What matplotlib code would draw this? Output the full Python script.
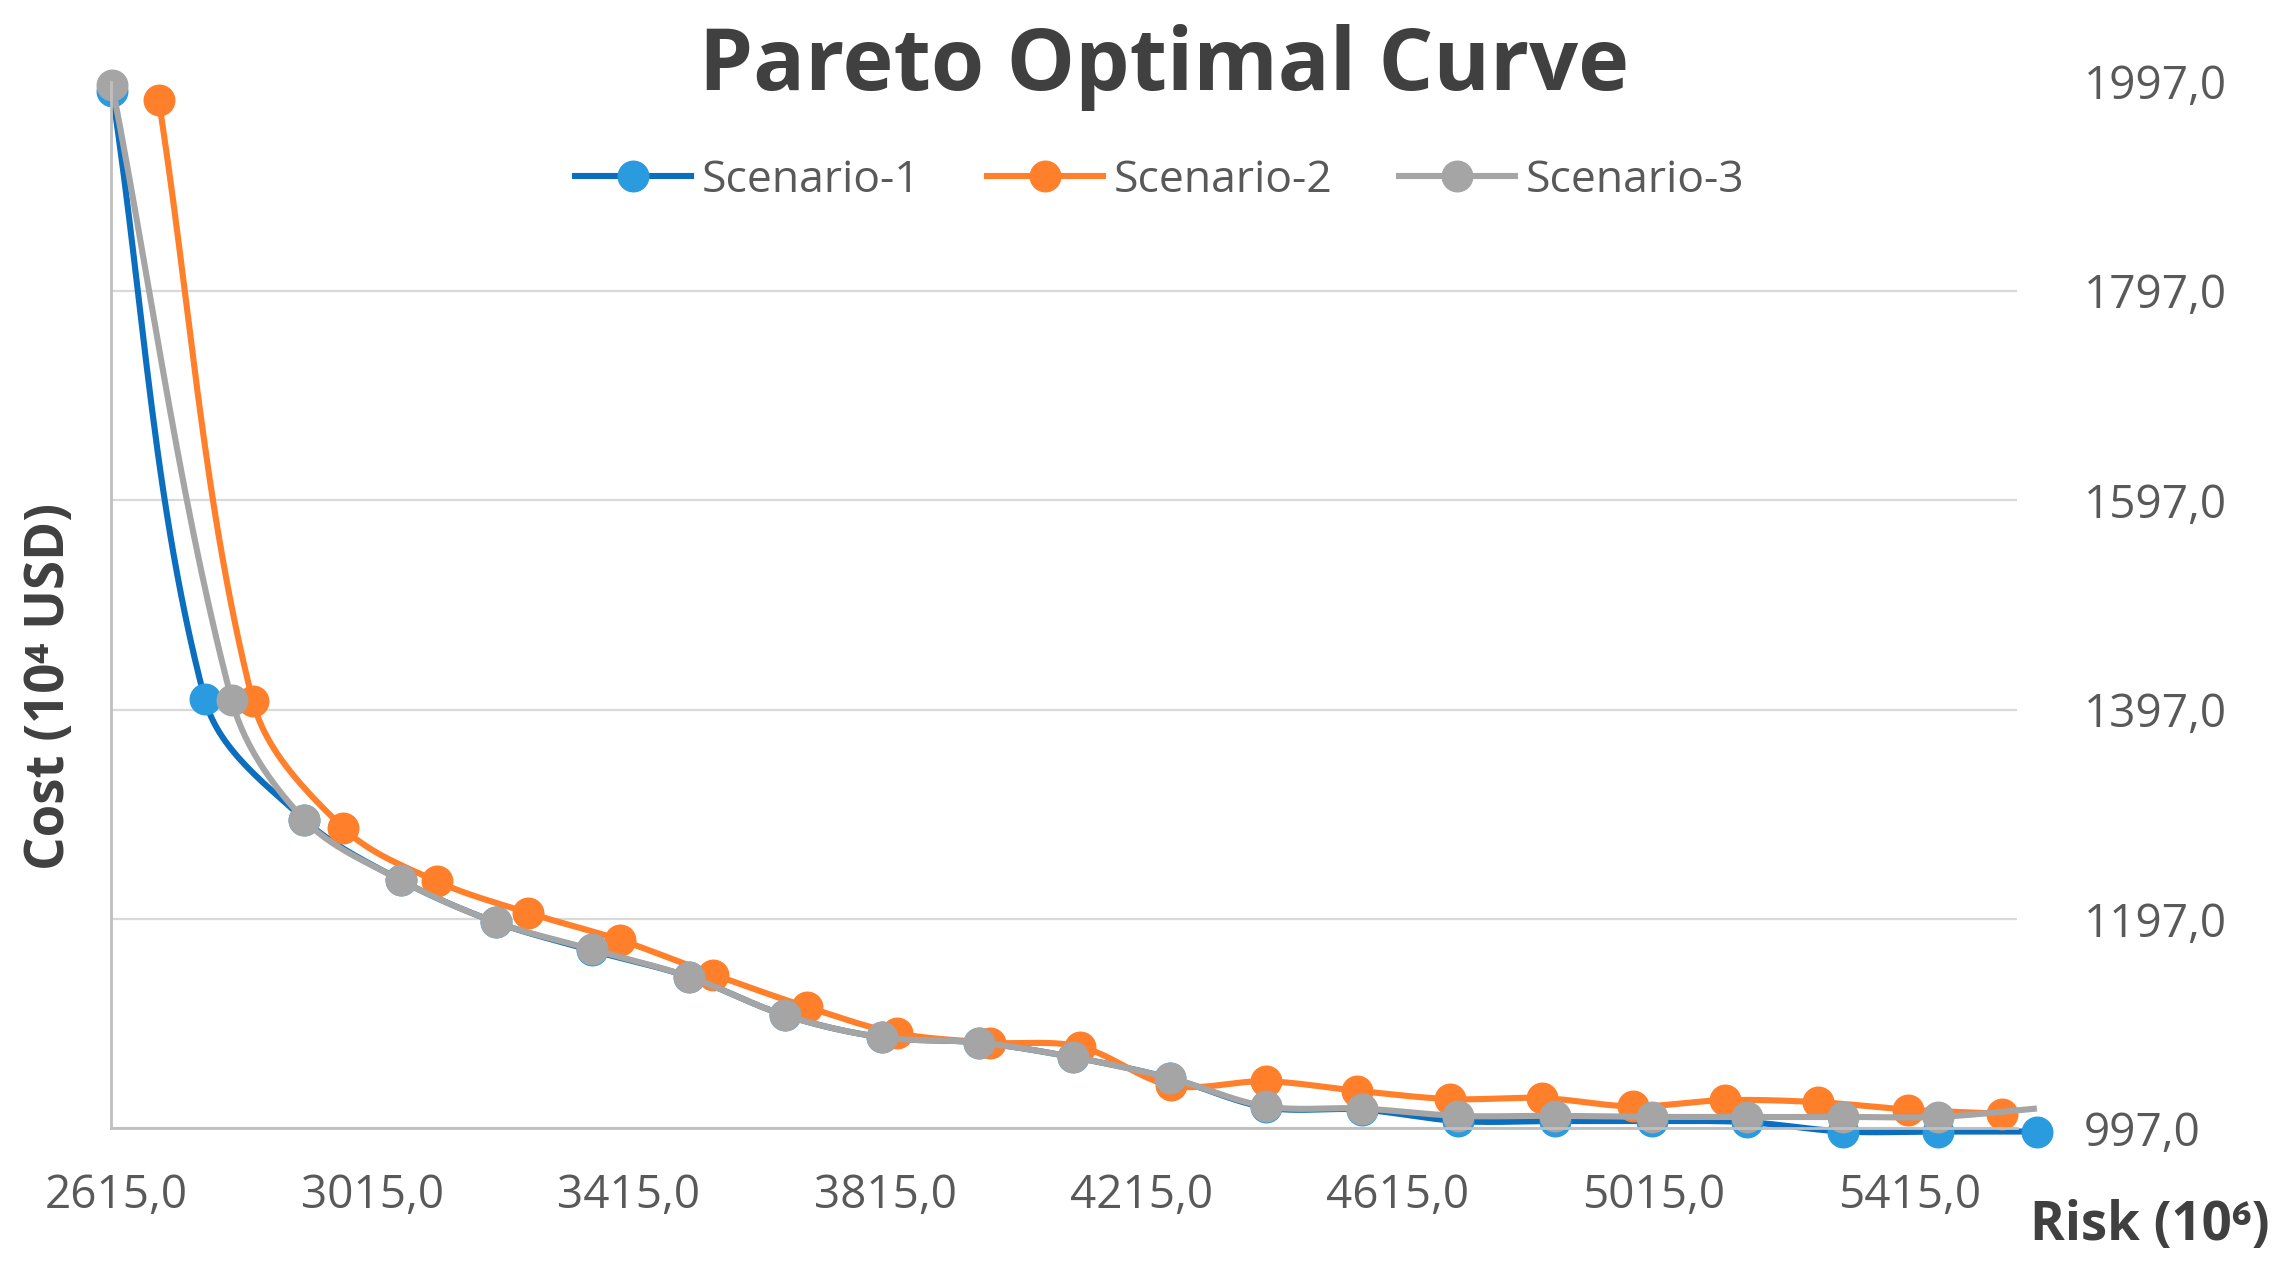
import numpy as np
import matplotlib
matplotlib.use("Agg")
import matplotlib.pyplot as plt
from matplotlib.ticker import FuncFormatter

plt.rcParams['font.family'] = ['Open Sans', 'DejaVu Sans']

# values
risk_s1 = [2608, 2753, 2908, 3059, 3207, 3357, 3508, 3659, 3810, 3961, 4109,
           4260, 4410, 4559, 4710, 4860, 5012, 5160, 5311, 5459, 5613]
cost_s1 = [1988, 1407, 1292, 1234, 1194, 1167, 1142, 1105, 1084, 1079, 1065,
           1045, 1017, 1015, 1004, 1004, 1004, 1003, 994, 994, 994]

risk_s2 = [2681, 2828, 2969, 3115, 3257, 3401, 3547, 3693, 3833, 3979, 4119,
           4262, 4410, 4551, 4697, 4840, 4983, 5126, 5272, 5412, 5558]
cost_s2 = [1979, 1405, 1284, 1233, 1203, 1177, 1144, 1113, 1088, 1079, 1075,
           1038, 1042, 1033, 1025, 1026, 1018, 1024, 1022, 1015, 1011]

risk_s3 = [2608, 2795, 2908, 3059, 3207, 3357, 3508, 3659, 3810, 3961, 4109,
           4260, 4410, 4559, 4710, 4860, 5012, 5160, 5311, 5459, 5613]
cost_s3 = [1994, 1406, 1292, 1234, 1194, 1168, 1142, 1105, 1084, 1079, 1065,
           1045, 1018, 1016, 1009, 1009, 1008, 1008, 1008, 1008, 1016]

x_ticks = [2615, 3015, 3415, 3815, 4215, 4615, 5015, 5415]
y_ticks = [997, 1197, 1397, 1597, 1797, 1997]


def smooth_line(ax, xs, ys, n=30):
    """Smoothed line like Excel's, bezier built in screen space."""
    pts = ax.transData.transform(np.column_stack([xs, ys]))
    m = len(pts)
    tang = np.zeros_like(pts)
    for i in range(m):
        d = pts[min(i + 1, m - 1)] - pts[max(i - 1, 0)]
        tang[i] = d / np.hypot(*d)
    out = []
    t = np.linspace(0, 1, n)[:, None]
    for i in range(m - 1):
        p1, p2 = pts[i], pts[i + 1]
        L = np.hypot(*(p2 - p1)) / 3
        c1 = p1 + tang[i] * L
        c2 = p2 - tang[i + 1] * L
        seg = ((1 - t) ** 3) * p1 + 3 * ((1 - t) ** 2) * t * c1 \
            + 3 * (1 - t) * t ** 2 * c2 + t ** 3 * p2
        out.append(seg if i == 0 else seg[1:])
    curve = ax.transData.inverted().transform(np.vstack(out))
    return curve[:, 0], curve[:, 1]


fig = plt.figure(figsize=(22.83, 12.72), dpi=100)
ax = fig.add_axes([0.0485, 0.1129, 0.835, 0.823])
ax.set_xlim(2606, 5582)
ax.set_ylim(997, 1997)

series = [
    ("Scenario-1", risk_s1, cost_s1, "#0B6EBF", "#2A9BDF", None),
    ("Scenario-2", risk_s2, cost_s2, "#FF7F2A", "#FF7F2A", None),
    ("Scenario-3", risk_s3, cost_s3, "#A5A5A5", "#A5A5A5", len(risk_s3) - 1),
]

handles = []
for name, xs, ys, lc, mc, last in series:
    sx, sy = smooth_line(ax, xs, ys)
    ax.plot(sx, sy, color=lc, lw=4.4, clip_on=False, solid_capstyle="butt")
    mx = xs[:last] if last else xs
    my = ys[:last] if last else ys
    ax.plot(mx, my, ls="none", marker="o", ms=22, color=mc, mec=mc, clip_on=False)
    h, = ax.plot([], [], color=lc, lw=4.4, marker="o", ms=22, mfc=mc, mec=mc)
    handles.append((h, name))

ax.set_xticks(x_ticks)
ax.set_yticks(y_ticks)
fmt = FuncFormatter(lambda v, pos: f"{v:.1f}".replace(".", ","))
ax.xaxis.set_major_formatter(fmt)
ax.yaxis.set_major_formatter(fmt)
ax.yaxis.tick_right()
ax.tick_params(axis="x", length=0, pad=32, labelsize=33, labelcolor="#595959")
ax.tick_params(axis="y", length=0, pad=48, labelsize=33, labelcolor="#595959")

ax.yaxis.grid(True, color="#D9D9D9", lw=1.6)
ax.get_ygridlines()[-1].set_visible(False)
ax.set_axisbelow(True)
for s in ("top", "right"):
    ax.spines[s].set_visible(False)
for s in ("left", "bottom"):
    ax.spines[s].set_color("#BFBFBF")
    ax.spines[s].set_linewidth(2)

fig.text(0.51, 0.929, "Pareto Optimal Curve", ha="center", va="baseline",
         fontsize=62, fontweight="bold", color="#404040")
fig.text(0.022, 0.46, "Cost (10⁴ USD)", rotation=90, ha="center", va="center",
         fontsize=38, fontweight="bold", color="#404040")
fig.text(0.889, 0.025, "Risk (10⁶)", ha="left", va="baseline",
         fontsize=38, fontweight="bold", color="#404040")

fig.legend([h for h, _ in handles], [n for _, n in handles], ncol=3,
           loc="center", bbox_to_anchor=(0.508, 0.858), frameon=False,
           fontsize=32, labelcolor="#595959", handlelength=2.6,
           handletextpad=0.25, columnspacing=1.5)

fig.savefig("out.png", dpi=100)
